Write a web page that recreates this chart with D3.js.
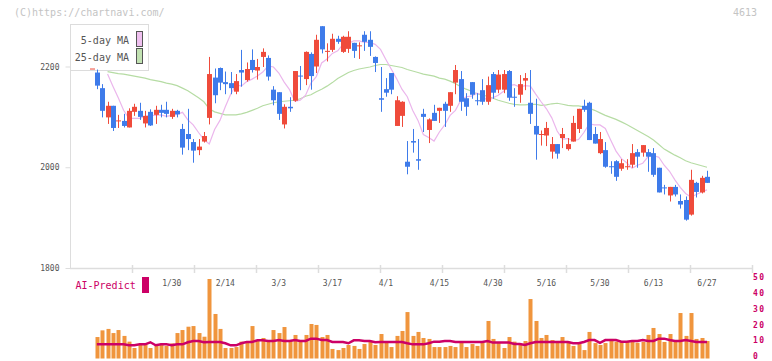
<!DOCTYPE html>
<html><head><meta charset="utf-8">
<script src="https://cdn.jsdelivr.net/npm/d3@7"></script>
<style>
html,body{margin:0;padding:0;background:#fff;}
svg{display:block;}
text{font-family:"DejaVu Sans Mono",monospace;}
</style></head>
<body>
<svg id="chart" width="772" height="361"></svg>
<script>
// ---- data ----
const dateLabels = ['1/30','2/14','3/3','3/17','4/1','4/15','4/30','5/16','5/30','6/13','6/27'];
const dateLabelIdx = [15,25,35,45,55,65,75,85,95,105,115];
const priceTicks = [1800,2000,2200];
const volTicks = [0,10,20,30,40,50];

const open = [2196,2188,2157,2099,2122,2092,2092,2079,2110,2112,
2087,2110,2104,2114,2114,2100,2112,2076,2066,2050,
2034,2051,2098,2178,2197,2169,2167,2150,2193,2173,
2213,2192,2219,2217,2154,2149,2085,2120,2132,2182,
2175,2225,2200,2280,2230,2233,2255,2229,2235,2247,
2241,2263,2253,2219,2137,2155,2187,2082,2102,2011,
2052,2016,2106,2074,2108,2112,2126,2122,2168,2175,
2137,2169,2133,2153,2130,2185,2154,2154,2191,2140,
2144,2172,2128,2082,2065,2063,2031,2046,2058,2036,
2051,2076,2122,2128,2066,2028,2034,2002,2012,1997,
2001,2005,2030,2029,2030,2028,1999,1960,1944,1961,
1933,1935,1906,1969,1950,1981];
const high = [2196,2194,2165,2130,2122,2104,2106,2117,2126,2128,
2112,2115,2122,2124,2130,2116,2114,2086,2116,2056,
2056,2070,2219,2196,2198,2190,2189,2185,2233,2208,
2234,2215,2236,2222,2161,2149,2125,2139,2191,2201,
2230,2228,2263,2280,2246,2265,2261,2261,2270,2247,
2248,2270,2270,2220,2199,2177,2187,2141,2131,2052,
2076,2056,2116,2097,2124,2118,2130,2149,2203,2191,
2147,2169,2147,2175,2180,2189,2193,2193,2193,2157,
2183,2187,2193,2136,2073,2090,2060,2046,2078,2058,
2102,2116,2134,2130,2080,2070,2050,2012,2014,2016,
2016,2046,2036,2044,2036,2038,1999,1965,1961,1965,
1946,1942,1995,1971,1983,1993];
const low = [2196,2155,2099,2086,2072,2078,2079,2079,2102,2094,
2079,2082,2086,2099,2099,2096,2099,2025,2034,2009,
2024,2049,2085,2127,2153,2145,2145,2145,2160,2170,
2188,2174,2199,2172,2123,2094,2077,2110,2130,2153,
2163,2154,2187,2226,2210,2229,2245,2227,2227,2217,
2215,2231,2221,2189,2110,2140,2145,2082,2080,1986,
2029,1995,2070,2048,2092,2088,2080,2110,2145,2112,
2102,2136,2123,2124,2124,2136,2147,2147,2132,2120,
2128,2153,2086,2015,2043,2042,2017,2017,2038,2033,
2051,2068,2110,2054,2047,2026,1999,1987,1973,1993,
1995,1999,1999,2021,1991,1981,1950,1946,1932,1942,
1918,1894,1904,1940,1948,1969];
const close = [2196,2162,2112,2122,2078,2093,2082,2112,2120,2100,
2102,2083,2114,2108,2106,2112,2105,2039,2056,2033,
2041,2062,2185,2143,2168,2165,2157,2171,2188,2195,
2193,2199,2229,2180,2133,2106,2120,2117,2191,2180,
2229,2181,2253,2234,2231,2255,2249,2259,2259,2231,
2242,2249,2239,2207,2134,2148,2154,2133,2130,2001,
2049,2013,2100,2095,2092,2118,2112,2149,2193,2130,
2120,2144,2132,2130,2163,2148,2184,2185,2138,2139,
2165,2177,2106,2065,2066,2078,2046,2027,2066,2046,
2088,2116,2114,2054,2047,2056,2001,2000,1981,2008,
2002,2028,2021,2044,2021,1985,1950,1959,1961,1946,
1926,1896,1975,1951,1979,1969];
const ma5 = [null,null,null,2185,2161,2138,2113,2097,2097,2097,
2101,2103,2103,2104,2101,2103,2105,2109,2094,2084,
2069,2055,2046,2075,2093,2120,2145,2164,2161,2170,
2175,2181,2189,2201,2199,2187,2169,2154,2131,2133,
2143,2167,2180,2207,2215,2226,2231,2244,2246,2251,
2251,2248,2248,2244,2234,2214,2195,2176,2155,2140,
2113,2093,2065,2059,2052,2070,2084,2103,2113,2133,
2140,2141,2147,2144,2131,2138,2143,2151,2162,2164,
2159,2162,2161,2145,2130,2116,2098,2072,2056,2057,
2053,2055,2069,2086,2084,2084,2077,2054,2032,2017,
2009,1998,2004,2008,2021,2023,2020,2004,1992,1975,
1960,1948,1941,1946,1951,1955];
const ma25 = [null,null,null,2190,2188,2186,2185,2183,2181,2179,
2177,2174,2172,2170,2167,2165,2162,2157,2152,2145,
2138,2130,2116,2110,2107,2104,2104,2104,2106,2109,
2113,2117,2122,2125,2128,2130,2131,2132,2133,2136,
2141,2144,2150,2155,2161,2168,2176,2182,2188,2192,
2195,2197,2199,2202,2204,2204,2202,2200,2198,2194,
2191,2188,2185,2183,2181,2177,2175,2171,2166,2160,
2155,2151,2146,2143,2141,2137,2133,2130,2127,2125,
2124,2124,2125,2125,2123,2124,2126,2127,2125,2123,
2122,2122,2120,2117,2113,2108,2103,2099,2095,2090,
2085,2079,2073,2067,2061,2054,2045,2036,2030,2024,
2019,2013,2009,2006,2003,2000];
const volume = [null,13.5,17.7,18.6,16,17.9,14.2,10.6,6.6,9.1,
9.1,6.6,8.5,9.1,7.9,9.5,16,17.9,20,20.4,
16,13.7,50,28,18.6,6.6,6.6,7.2,10.6,9.9,
20.4,11.6,12.9,11.6,17.9,16,19.8,11,14.8,11,
14.8,21.7,21.1,13.5,14.8,6,5.3,6.6,8.5,7.9,
6,9.1,10.4,8.5,15.4,10.6,7.2,14.2,17.3,29.2,
14.2,16.7,12.9,12.3,7.2,7.2,7.2,7.9,7.2,10.6,
7.2,9.1,7.9,10.6,23.6,12.3,9.9,6.6,13.5,10.6,
8.5,11,37.4,23.6,12.9,14.8,11.6,10.6,13.5,10.6,
7.9,9.1,5.3,16.7,9.7,8.5,9.7,12.3,10.6,10.4,
10.4,10.6,9.9,10.4,14.8,19.2,15.4,10.4,15.4,10.6,
28.6,14.2,28.6,12.3,12.9,11];
const aiPredict = [null,8.9,8.9,8.9,8.9,8.9,8.9,8.3,8.3,8.9,
8.9,10.2,8.3,8.9,8.9,8.3,8.9,8.9,10.2,11,
11,10.2,10.4,10.4,10.4,9.6,8.3,8.3,9.6,10.4,
10.4,11.4,11.4,11,11,11.6,11,11,11.6,11,
11,12.5,12.5,11.6,11.6,10.4,10.4,10.4,9.6,11.4,
11.4,11,11,10.2,10.4,10.4,10.4,10.4,10.4,9.6,
8.9,8.9,8.9,9.6,10.6,10.6,11,11,10.4,10.4,
10.4,10.4,10.4,10.4,11,10,10,10,10,9.1,
9.1,8.5,9.6,10.4,10.4,10.4,10.4,10.4,10.4,10.4,
9.6,9.6,10.4,11.6,11.6,9.9,11.6,11.6,11.6,10.6,
10.6,11,11,11.6,11,11,12.5,12.5,11.6,11,
11,11.6,11,10.4,10.4,10.4];
const xAxisTickCount = 11;

// ---- chart ----
const svg = d3.select('#chart');
const n = close.length;
const x = d3.scaleLinear().domain([0, n - 1]).range([91.5, 707]);
const y = d3.scaleLinear().domain([1800, 2200]).range([268, 66.5]);
const yv = d3.scaleLinear().domain([0, 50]).range([358.5, 279]);
const xTickScale = d3.scaleLinear().domain([0, xAxisTickCount]).range([70, 752]);
const idx = d3.range(n);
const RED = '#ef4b3b', BLUE = '#3e7bea', AXIS = '#dddddd';

// header
svg.append('text').attr('x', 14).attr('y', 16).attr('font-size', 10).attr('fill', '#c4c4c4').text('(C)https://chartnavi.com/');
svg.append('text').attr('x', 757).attr('y', 16).attr('text-anchor', 'end').attr('font-size', 10).attr('fill', '#c4c4c4').text('4613');

// y axis (left)
const yAxis = d3.axisLeft(y).tickValues(priceTicks).tickSize(5).tickPadding(6).tickFormat(d3.format('d'));
const gy = svg.append('g').attr('transform', 'translate(70.5,0)').call(yAxis);
gy.select('.domain').attr('stroke', AXIS).attr('d', `M0,${y(2200) - 40}V${y(1800)}`);
gy.selectAll('.tick line').attr('stroke', AXIS);
gy.selectAll('.tick text').attr('font-family', '"DejaVu Sans Mono",monospace').attr('font-size', 8).attr('fill', '#555');

// x axis line + ticks
const gx = svg.append('g');
gx.append('line').attr('x1', xTickScale(0)).attr('x2', xTickScale(xAxisTickCount)).attr('y1', y(1800) + 0.5).attr('y2', y(1800) + 0.5).attr('stroke', AXIS).attr('stroke-width', 1.5);
gx.selectAll('line.tk').data(d3.range(1, xAxisTickCount + 1)).join('line').attr('class', 'tk')
  .attr('x1', d => xTickScale(d) + 0.5).attr('x2', d => xTickScale(d) + 0.5)
  .attr('y1', y(1800) - 3).attr('y2', y(1800) + 5).attr('stroke', AXIS).attr('stroke-width', 1.5);
svg.selectAll('text.xl').data(dateLabelIdx).join('text').attr('class', 'xl')
  .attr('x', d => x(d)).attr('y', 286).attr('text-anchor', 'middle').attr('font-size', 8).attr('fill', '#555')
  .text((d, i) => dateLabels[i]);

// moving averages
const line = arr => d3.line().defined(i => arr[i] != null).x(i => x(i)).y(i => y(arr[i]))(idx);
svg.append('path').attr('d', line(ma25)).attr('fill', 'none').attr('stroke', '#b6dca4').attr('stroke-width', 1.2);
svg.append('path').attr('d', line(ma5)).attr('fill', 'none').attr('stroke', '#ebb6ec').attr('stroke-width', 1.2);

// legend
const lg = svg.append('g');
lg.append('rect').attr('x', 70.5).attr('y', 24.5).attr('width', 78).attr('height', 46).attr('fill', '#fff').attr('stroke', '#dcdcdc');
lg.append('text').attr('x', 129).attr('y', 44).attr('text-anchor', 'end').attr('font-size', 10).attr('fill', '#555').text('5-day MA');
lg.append('text').attr('x', 129).attr('y', 61).attr('text-anchor', 'end').attr('font-size', 10).attr('fill', '#555').text('25-day MA');
lg.append('rect').attr('x', 136.5).attr('y', 31.5).attr('width', 6).attr('height', 15).attr('fill', '#efc0ef').attr('stroke', '#555');
lg.append('rect').attr('x', 136.5).attr('y', 48.5).attr('width', 6).attr('height', 15).attr('fill', '#c2e2b2').attr('stroke', '#555');

// candles
const cg = svg.append('g');
const col = i => close[i] >= open[i] ? RED : BLUE;
cg.selectAll('line.wick').data(idx).join('line').attr('class', 'wick')
  .attr('x1', i => Math.round(x(i)) + 0.5).attr('x2', i => Math.round(x(i)) + 0.5)
  .attr('y1', i => y(high[i])).attr('y2', i => y(low[i]))
  .attr('stroke', col).attr('stroke-width', 1);
cg.selectAll('rect.body').data(idx).join('rect').attr('class', 'body')
  .attr('x', i => Math.round(x(i)) - 2).attr('width', 5)
  .attr('y', i => y(Math.max(open[i], close[i])))
  .attr('height', i => Math.max(1, y(Math.min(open[i], close[i])) - y(Math.max(open[i], close[i]))))
  .attr('fill', col);

// volume
svg.selectAll('rect.vol').data(idx.filter(i => volume[i] != null)).join('rect').attr('class', 'vol')
  .attr('x', i => Math.round(x(i)) - 1.5).attr('width', 4)
  .attr('y', i => yv(volume[i])).attr('height', i => yv(0) - yv(volume[i]))
  .attr('fill', '#f0953d');
svg.append('path')
  .attr('d', d3.line().defined(i => aiPredict[i] != null).x(i => x(i)).y(i => yv(aiPredict[i]))(idx))
  .attr('fill', 'none').attr('stroke', '#cc0066').attr('stroke-width', 2.5);

// AI-Predict legend
svg.append('text').attr('x', 75.5).attr('y', 289).attr('font-size', 10).attr('fill', '#cc0066').text('AI-Predict');
svg.append('rect').attr('x', 142).attr('y', 277).attr('width', 7).attr('height', 16).attr('fill', '#cc0066');

// right volume axis labels
svg.selectAll('text.vl').data(volTicks).join('text').attr('class', 'vl')
  .attr('x', 753).attr('y', d => yv(d) - 2).attr('dy', '0.35em')
  .attr('font-size', 8).attr('font-weight', 'bold').attr('letter-spacing', 1.5).attr('fill', '#cc0066')
  .text(d => d);
</script>
</body></html>
